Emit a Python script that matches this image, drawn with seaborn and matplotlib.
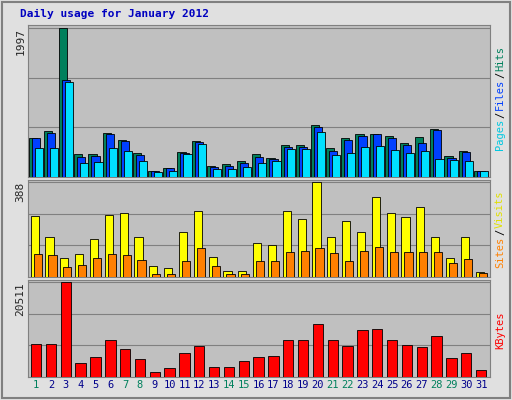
import matplotlib
matplotlib.use("Agg")
import matplotlib.pyplot as plt
import seaborn as sns
import numpy as np

days = list(range(1, 32))
weekends = [1, 7, 8, 14, 15, 21, 22, 28, 29]
hits = [526,621,1997,310,310,594,499,324,81,121,337,486,148,175,216,310,256,432,432,701,391,526,580,580,553,459,540,648,283,351,81]
files = [526,594,1295,270,283,580,486,297,81,121,324,472,135,148,189,270,243,405,405,675,351,499,553,580,526,432,459,634,256,337,81]
pages = [391,391,1268,189,202,391,351,216,67,81,310,445,108,108,135,189,216,378,378,607,297,324,405,418,364,324,351,243,229,216,81]
visits = [250,163,79,92,154,254,263,163,46,38,184,271,83,25,25,138,129,271,238,388,163,229,184,325,263,246,284,163,79,163,21]
sites = [92,88,42,50,79,92,88,71,13,13,67,117,46,13,13,67,67,104,108,117,96,67,108,121,104,104,100,104,58,75,17]
kbytes = [7056,7056,20511,3087,4410,7938,5954,3969,1103,1985,5072,6615,2205,2205,3528,4410,4631,7938,7938,11466,7938,6615,10143,10364,7938,6836,6395,8820,4190,5072,1544]

sns.set_style("white")
plt.rcParams['font.family'] = ['DejaVu Sans Mono', 'DejaVu Sans']

W, H = 512, 400
fig = plt.figure(figsize=(W/100, H/100), dpi=100, facecolor="#E0E0E0")
fig.patches.append(plt.Rectangle((0.004, 0.004), 0.992, 0.992, transform=fig.transFigure,
                                 fill=False, edgecolor="#808080", lw=1.5))

def mkax(top, bot):
    ax = fig.add_axes([28/W, 1-bot/H, (490-28)/W, (bot-top)/H])
    ax.set_facecolor("#C0C0C0")
    for s in ax.spines.values():
        s.set_color("#808080")
    return ax

x = np.array(days, dtype=float)

def panel(ax, series, colors, mx, offs, width):
    for vals, c, o in zip(series, colors, offs):
        ax.bar(x + o, vals, width=width, color=c, edgecolor="black", lw=0.6, zorder=3)
    ax.set_xlim(0.45, 31.6)
    ax.set_ylim(0, mx * 1.02)
    ax.set_yticks([mx/3, 2*mx/3, mx])
    ax.set_yticklabels(["", "", str(mx)], rotation=90, va="top", fontsize=8)
    ax.tick_params(axis="y", length=0, pad=2)
    ax.yaxis.grid(True, color="#808080", lw=0.8, zorder=0)
    ax.set_xticks([])

ax1 = mkax(25, 177)
panel(ax1, [hits, files, pages], ["#00805C", "#0040FF", "#00E0FF"], 1997, [-0.2, 0.0, 0.2], 0.55)
ax2 = mkax(180, 277)
panel(ax2, [visits, sites], ["#FFFF00", "#FF8000"], 388, [-0.1, 0.1], 0.55)
ax3 = mkax(280, 377)
panel(ax3, [kbytes], ["#FF0000"], 20511, [0.0], 0.7)
ax3.set_xticks(days)
ax3.set_xticklabels([str(d) for d in days], fontsize=7.5)
for lbl, d in zip(ax3.get_xticklabels(), days):
    lbl.set_color("#00805C" if d in weekends else "#00008B")
ax3.tick_params(axis="x", length=0, pad=2)

fig.text(20/W, 1-14/H, "Daily usage for January 2012", color="#0000C0",
         fontsize=8, fontweight="bold", va="center")

def vlabel(y_center, parts):
    total = sum(len(p) for p, _ in parts)
    ch = 6.6
    y = y_center + total*ch/2
    for txt, c in parts:
        fig.text(500/W, 1-(y - len(txt)*ch/2)/H, txt, color=c, rotation=90,
                 fontsize=7.5, ha="center", va="center")
        y -= len(txt)*ch

vlabel(98, [("Pages", "#00C8E0"), ("/", "#000000"), ("Files", "#0040FF"), ("/", "#000000"), ("Hits", "#00805C")])
vlabel(229, [("Sites", "#FF8000"), ("/", "#000000"), ("Visits", "#E0E000")])
vlabel(330, [("KBytes", "#FF0000")])

fig.savefig("out.png", dpi=100, facecolor=fig.get_facecolor())
